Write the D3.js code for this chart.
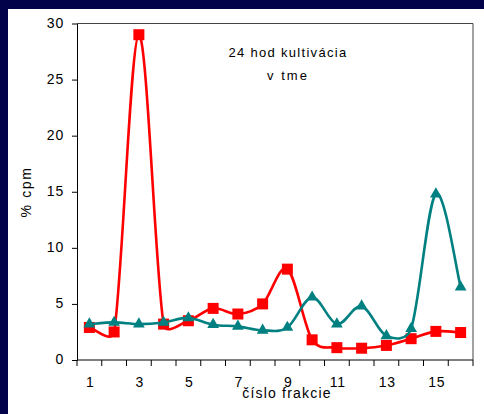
<!DOCTYPE html>
<html>
<head>
<meta charset="utf-8">
<script src="https://cdn.jsdelivr.net/npm/d3@7/dist/d3.min.js"></script>
<style>
  html, body { margin: 0; padding: 0; background: #02024a; }
  svg { display: block; }
  text { font-family: Arial, "Liberation Sans", sans-serif; fill: #000; }
</style>
</head>
<body>
<svg id="chart" width="484" height="414"></svg>
<script>
const fractions = [1,2,3,4,5,6,7,8,9,10,11,12,13,14,15,16];
const seriesRed  = [2.9, 2.5, 29.0, 3.2, 3.5, 4.6, 4.1, 5.0, 8.1, 1.8, 1.1, 1.05, 1.3, 1.9, 2.55, 2.45];
const seriesTeal = [3.2, 3.35, 3.2, 3.35, 3.75, 3.15, 3.0, 2.65, 2.9, 5.6, 3.2, 4.8, 2.15, 2.8, 14.8, 6.5];
const yTicks = [0, 5, 10, 15, 20, 25, 30];
const xTickLabels = [1, 3, 5, 7, 9, 11, 13, 15];
const titleLines = ["24 hod kultivácia", "v tme"];
const xTitle = "číslo frakcie";
const yTitle = "% cpm";

const svg = d3.select("#chart");
svg.append("rect").attr("x", 0).attr("y", 0).attr("width", 484).attr("height", 414).attr("fill", "#02024a");
svg.append("rect").attr("x", 8).attr("y", 9).attr("width", 476).attr("height", 405).attr("fill", "#ffffff");

const pLeft = 77, pRight = 473, pTop = 23.5, pBottom = 360;

const x = d3.scaleBand().domain(fractions).range([pLeft, pRight]).padding(0);
const y = d3.scaleLinear().domain([0, 30]).range([pBottom, pTop]);
const cx = d => x(d) + x.bandwidth() / 2;

svg.append("path")
  .attr("d", `M${pLeft},${pTop}H${pRight}V${pBottom}`)
  .attr("fill", "none").attr("stroke", "#444").attr("stroke-width", 1);

const yAxis = svg.append("g").attr("transform", `translate(${pLeft},0)`)
  .call(d3.axisLeft(y).tickValues(yTicks).tickSize(5).tickPadding(8).tickSizeOuter(0));
yAxis.selectAll("path, line").attr("stroke", "#000");
yAxis.selectAll("text").attr("font-size", 14).attr("letter-spacing", 0.8)
  .attr("font-family", "Arial, 'Liberation Sans', sans-serif").attr("dy", "0.25em");

svg.append("line").attr("x1", pLeft).attr("x2", pRight).attr("y1", pBottom).attr("y2", pBottom)
  .attr("stroke", "#000");
const boundaries = fractions.map(d => x(d)).concat([x.range()[1]]);
svg.append("g").selectAll("line").data(boundaries).join("line")
  .attr("x1", d => d).attr("x2", d => d).attr("y1", pBottom).attr("y2", pBottom + 6)
  .attr("stroke", "#000");
svg.append("g").selectAll("text").data(xTickLabels).join("text")
  .attr("x", d => cx(d) + 1).attr("y", 387)
  .attr("text-anchor", "middle").attr("font-size", 14).attr("letter-spacing", 0.8)
  .text(d => d);

svg.append("text").attr("x", 287).attr("y", 398).attr("text-anchor", "middle")
  .attr("font-size", 14).attr("letter-spacing", 1.2).text(xTitle);
svg.append("text").attr("transform", "translate(31,192) rotate(-90)").attr("text-anchor", "middle")
  .attr("font-size", 14).attr("letter-spacing", 1.6).text(yTitle);

svg.append("text").attr("x", 288).attr("y", 57).attr("text-anchor", "middle")
  .attr("font-size", 13).attr("letter-spacing", 1.3).text(titleLines[0]);
svg.append("text").attr("x", 288).attr("y", 80).attr("text-anchor", "middle")
  .attr("font-size", 13).attr("letter-spacing", 2).text(titleLines[1]);

// Excel-style smoothed line: Bezier with 1/6 tangents, limited to half the segment length
function smoothPath(data) {
  const pts = data.map(d => [cx(d[0]), y(d[1])]);
  const p = d3.path();
  const dist = (a, b) => Math.hypot(b[0] - a[0], b[1] - a[1]);
  p.moveTo(pts[0][0], pts[0][1]);
  for (let i = 0; i < pts.length - 1; i++) {
    const P0 = pts[Math.max(0, i - 1)], P1 = pts[i], P2 = pts[i + 1], P3 = pts[Math.min(pts.length - 1, i + 2)];
    const d12 = dist(P1, P2), d02 = dist(P0, P2), d13 = dist(P1, P3);
    const f1 = d02 > 0 ? Math.min(1 / 6, 0.5 * d12 / d02) : 0;
    const f2 = d13 > 0 ? Math.min(1 / 6, 0.5 * d12 / d13) : 0;
    const c1 = [P1[0] + (P2[0] - P0[0]) * f1, P1[1] + (P2[1] - P0[1]) * f1];
    const c2 = [P2[0] - (P3[0] - P1[0]) * f2, P2[1] - (P3[1] - P1[1]) * f2];
    p.bezierCurveTo(c1[0], c1[1], c2[0], c2[1], P2[0], P2[1]);
  }
  return p.toString();
}

const redData = fractions.map((f, i) => [f, seriesRed[i]]);
const tealData = fractions.map((f, i) => [f, seriesTeal[i]]);

svg.append("path").attr("d", smoothPath(redData))
  .attr("fill", "none").attr("stroke", "#ff0000").attr("stroke-width", 2.6);
svg.append("g").selectAll("rect").data(redData).join("rect")
  .attr("x", d => cx(d[0]) - 5.5).attr("y", d => y(d[1]) - 5.5)
  .attr("width", 11).attr("height", 11).attr("fill", "#ff0000");

svg.append("path").attr("d", smoothPath(tealData))
  .attr("fill", "none").attr("stroke", "#008080").attr("stroke-width", 2.6);
const tri = d3.symbol().type(d3.symbolTriangle).size(60);
svg.append("g").selectAll("path").data(tealData).join("path")
  .attr("d", tri)
  .attr("transform", d => `translate(${cx(d[0])},${y(d[1])})`)
  .attr("fill", "#008080");
</script>
</body>
</html>
